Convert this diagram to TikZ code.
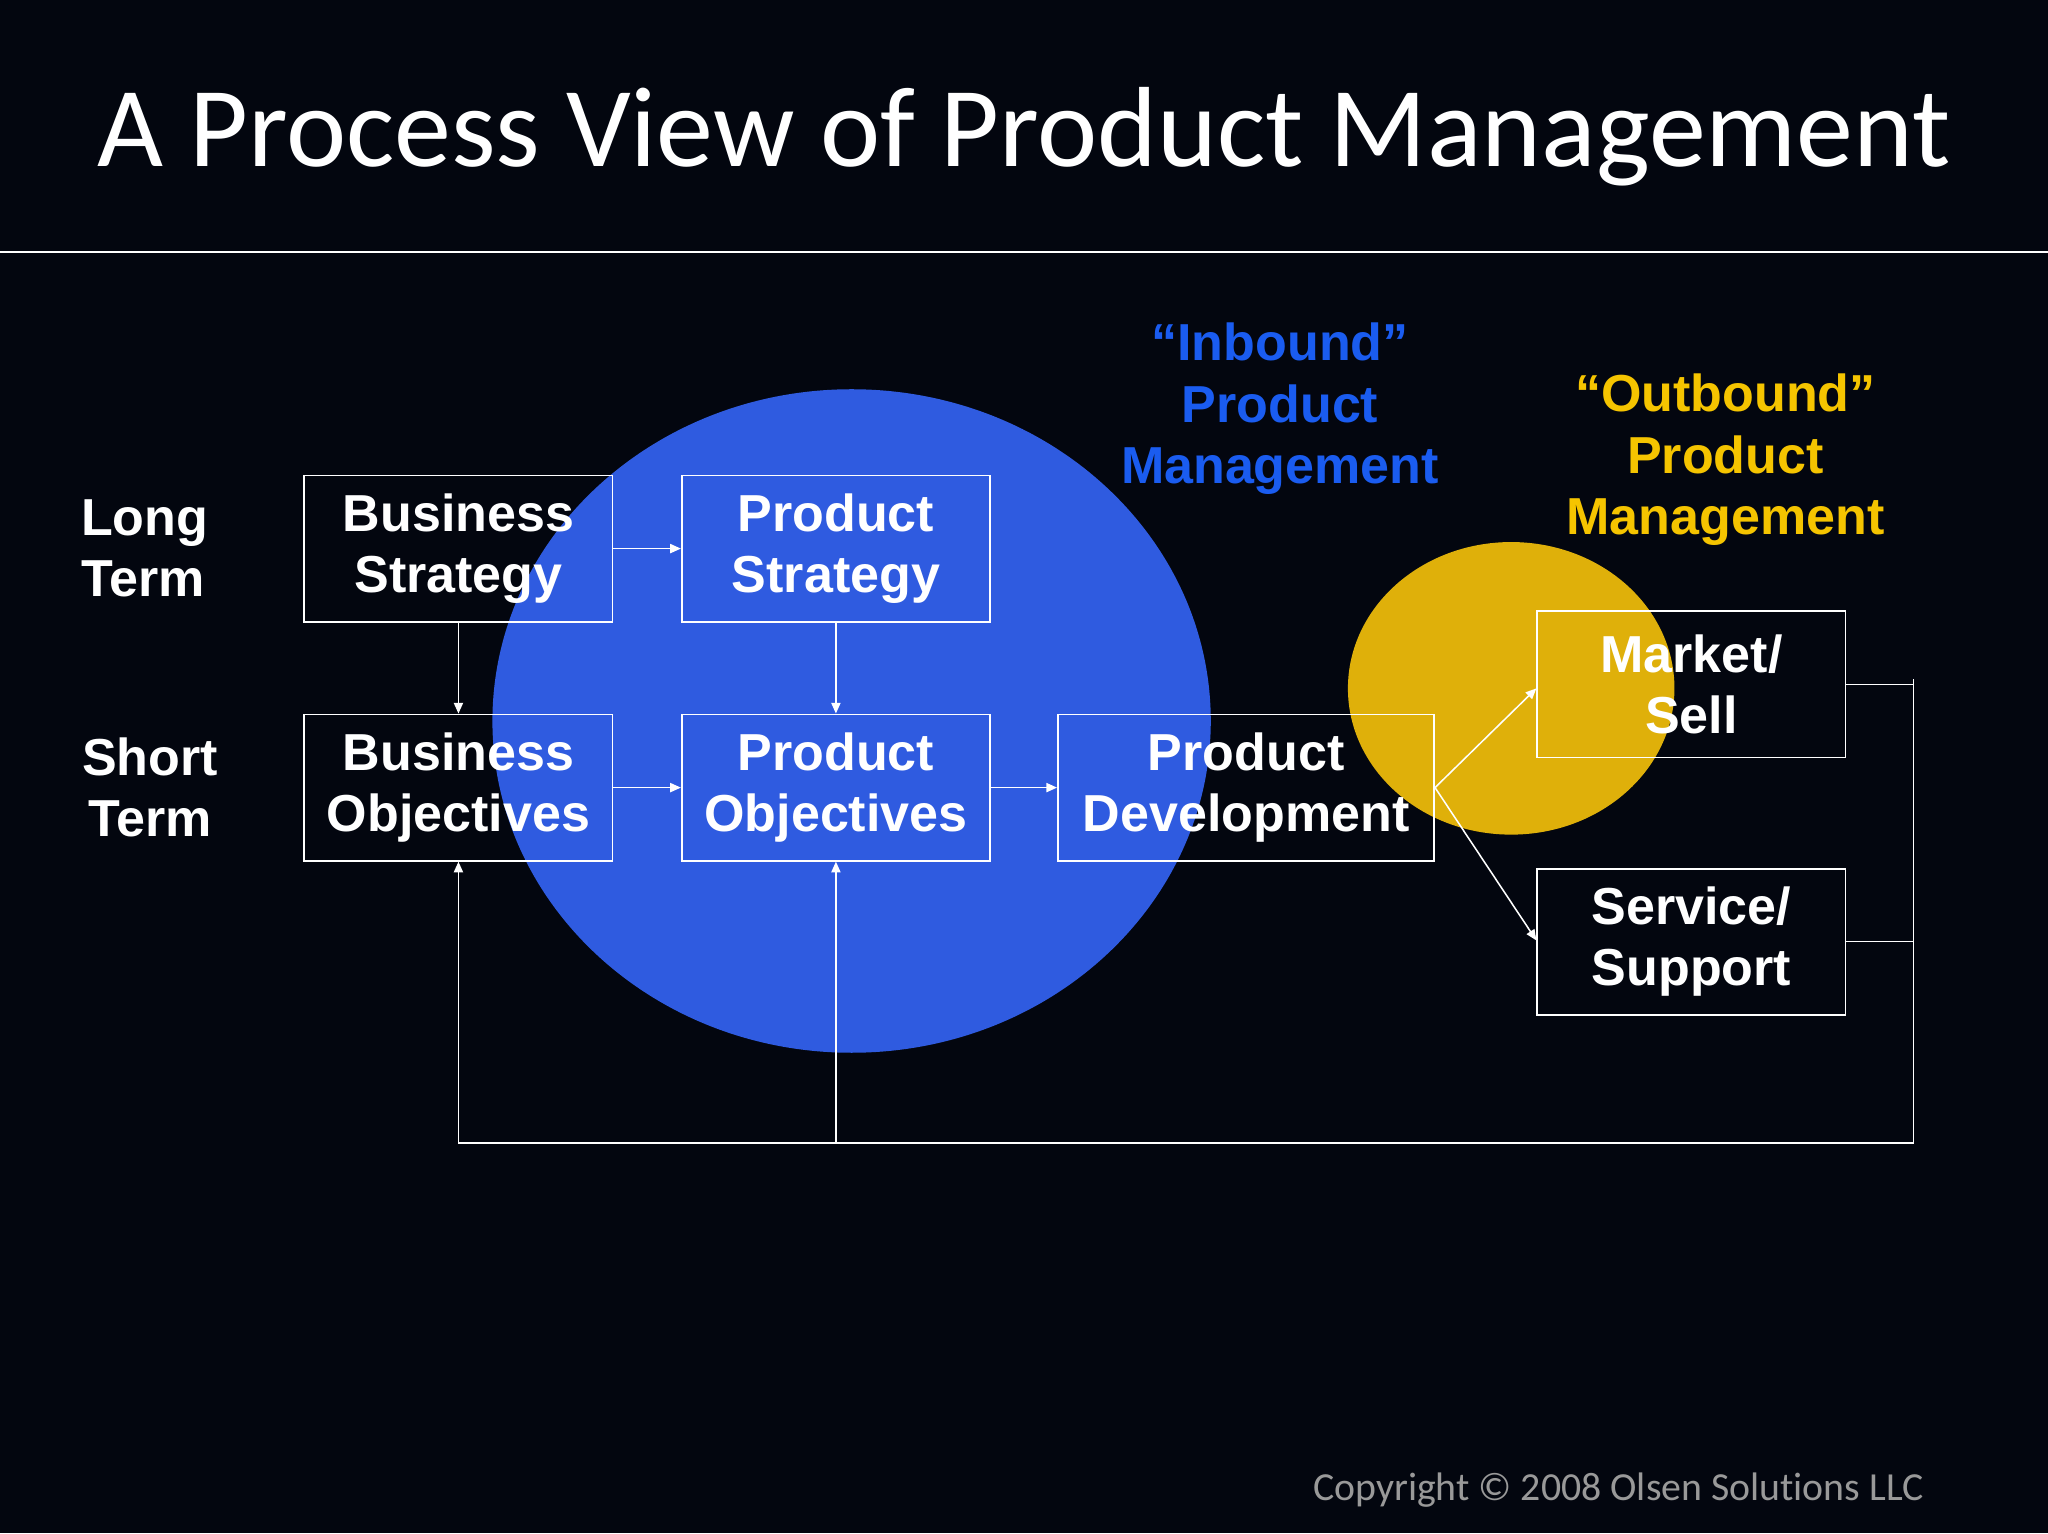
\documentclass[tikz,border=0pt]{standalone}
\usepackage{fontspec}
\setmainfont{Liberation Sans}
\newfontfamily\calib[Ligatures={NoCommon,NoRequired}]{Carlito}
\usetikzlibrary{arrows.meta}
\definecolor{bg}{HTML}{03060F}
\definecolor{bluec}{HTML}{2F5BE0}
\definecolor{yelc}{HTML}{DFB00A}
\definecolor{bluet}{HTML}{1A5CF0}
\definecolor{yelt}{HTML}{F5C400}
\begin{document}
\begin{tikzpicture}[x=0.3mm,y=-0.3mm,
  box/.style={draw=white,line width=1.2pt,minimum width=236*0.3mm,minimum height=112*0.3mm,align=center,font=\fontsize{34}{40}\selectfont\bfseries,text=white,inner sep=0pt},
  lab/.style={align=left,font=\fontsize{34}{40}\selectfont\bfseries,text=white},
  con/.style={draw=white,line width=1pt},
  arr/.style={con,-{Triangle[width=6pt,length=7pt]}}]
\fill[bg] (0,0) rectangle (1568,1174);
\useasboundingbox (0,0) rectangle (1568,1174);
\node[text=white,font=\calib\fontsize{74.5}{80}\selectfont] (title) at (784,105) {A Process View of Product Management};
\draw[white,line width=1pt] (0,193) -- (1568,193);
\fill[bluec] (652,552) ellipse [x radius=275,y radius=254];
\fill[yelc] (1157,527) ellipse [x radius=125,y radius=112];
\node[box] (bs) at (351,420) {Business\\Strategy};
\node[box] (ps) at (640,420) {Product\\Strategy};
\node[box] (bo) at (351,603) {Business\\Objectives};
\node[box] (po) at (640,603) {Product\\Objectives};
\node[box,minimum width=288*0.3mm] (pd) at (954,603) {Product\\Development};
\node[box] (ms) at (1295,524) {Market/\\Sell};
\node[box] (ss) at (1295,721) {Service/\\Support};
\node[lab,anchor=west] (lt) at (58,420) {Long\\Term};
\node[lab,align=center] (st) at (115,603) {Short\\Term};
\node[align=center,font=\fontsize{34}{40}\selectfont\bfseries,text=bluet] (inb) at (980,313) {``Inbound''\\Product\\Management};
\node[align=center,font=\fontsize{34}{40}\selectfont\bfseries,text=yelt] (outb) at (1321,352) {``Outbound''\\Product\\Management};
\node[anchor=east,text=gray!80,font=\calib\fontsize{26}{30}\selectfont] (copy) at (1477,1141) {Copyright © 2008 Olsen Solutions LLC};
\draw[arr] (bs.east) -- (ps.west);
\draw[arr] (bs.south) -- (bo.north);
\draw[arr] (ps.south) -- (po.north);
\draw[arr] (bo.east) -- (po.west);
\draw[arr] (po.east) -- (pd.west);
\draw[arr] (pd.east) -- (ms.west |- 0,527);
\draw[arr] (pd.east) -- (ss.west |- 0,720);
\coordinate (rt) at (1465,520);
\coordinate (rb) at (1465,875);
\coordinate (lb) at (351,875);
\coordinate (mb) at (640,875);
\draw[con] (ms.east) -- (ms.east -| rt);
\draw[con] (ss.east) -- (ss.east -| rt);
\draw[con] (rt) -- (rb) -- (lb);
\draw[arr] (lb) -- (bo.south);
\draw[arr] (mb) -- (po.south);
\end{tikzpicture}
\end{document}
